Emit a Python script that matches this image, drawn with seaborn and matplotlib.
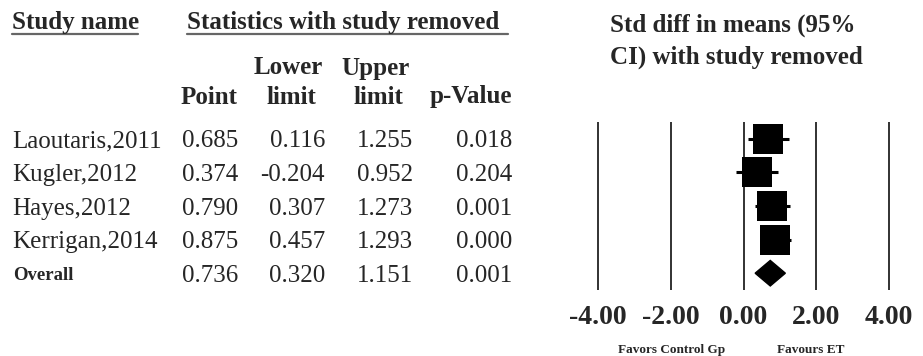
import numpy as np
import pandas as pd
import seaborn as sns
import matplotlib.pyplot as plt
from matplotlib.lines import Line2D
from matplotlib.patches import Polygon
from matplotlib.transforms import blended_transform_factory

studies = ['Laoutaris,2011', 'Kugler,2012', 'Hayes,2012', 'Kerrigan,2014']
point = [0.685, 0.374, 0.790, 0.875]
lower = [0.116, -0.204, 0.307, 0.457]
upper = [1.255, 0.952, 1.273, 1.293]
pvalue = [0.018, 0.204, 0.001, 0.000]

overall_point = 0.736
overall_lower = 0.320
overall_upper = 1.151
overall_p = 0.001

xticks = [-4, -2, 0, 2, 4]

sns.set_theme(style='white')
plt.rcParams['font.family'] = ['Liberation Serif', 'DejaVu Serif']

W, H = 923, 356
fig = plt.figure(figsize=(W / 100, H / 100), dpi=100)

# forest axes placed in pixel terms
x0, x1 = 579.8, 907.2
y_top, y_bot = 122, 290
ax = fig.add_axes([x0 / W, (H - y_bot) / H, (x1 - x0) / W, (y_bot - y_top) / H])

df = pd.DataFrame({'study': studies, 'point': point, 'lower': lower,
                   'upper': upper, 'p': pvalue})
df['row'] = np.arange(len(df))

for v in xticks:
    ax.axvline(v, color='#222222', lw=1.3, zorder=1)

ax.hlines(df['row'], df['lower'], df['upper'], color='black', lw=2.2, zorder=2)
sns.scatterplot(data=df, x='point', y='row', marker='s', s=480,
                color='black', edgecolor='black', linewidth=0, ax=ax, zorder=3)

r = len(df)
dh = 0.38
diamond = Polygon([[overall_lower, r], [overall_point, r - dh],
                   [overall_upper, r], [overall_point, r + dh]],
                  closed=True, color='black', zorder=3)
ax.add_patch(diamond)

ax.set_xlim(-4.5, 4.5)
ax.set_ylim(r + 0.5, -0.5)
ax.set_xticks(xticks)
ax.set_xticklabels(['%.2f' % v for v in xticks], fontsize=20, fontweight='bold')
ax.tick_params(axis='x', length=0, pad=11)
ax.set_yticks([])
ax.set_xlabel('')
ax.set_ylabel('')
for s in ax.spines.values():
    s.set_visible(False)

# table text, rows share the forest y scale
tr = blended_transform_factory(fig.transFigure, ax.transData)
col_right = [238, 325, 413, 512]
for i, row in df.iterrows():
    yy = row['row'] + 0.08
    fig.text(12 / W, yy, row['study'], transform=tr, fontsize=18, va='center', ha='left')
    vals = [row['point'], row['lower'], row['upper'], row['p']]
    for xr, v in zip(col_right, vals):
        fig.text(xr / W, yy, '%.3f' % v, transform=tr, fontsize=18, va='center', ha='right')

yy = r + 0.08
fig.text(13 / W, yy, 'Overall', transform=tr, fontsize=13.5, fontweight='bold',
         va='center', ha='left')
for xr, v in zip(col_right, [overall_point, overall_lower, overall_upper, overall_p]):
    fig.text(xr / W, yy, '%.3f' % v, transform=tr, fontsize=18, va='center', ha='right')

def px(x, y):
    return x / W, 1 - y / H

# headers
fig.text(*px(12, 23), 'Study name', fontsize=18, fontweight='bold', va='center', ha='left')
fig.text(*px(187, 23), 'Statistics with study removed', fontsize=18, fontweight='bold',
         va='center', ha='left')
for xa, xb in [(12, 138), (187, 508)]:
    fig.add_artist(Line2D([xa / W, xb / W], [1 - 34 / H, 1 - 34 / H],
                          color='#666666', lw=1.6, transform=fig.transFigure))

fig.text(*px(288, 68), 'Lower', fontsize=18, fontweight='bold', va='center', ha='center')
fig.text(*px(376, 68), 'Upper', fontsize=18, fontweight='bold', va='center', ha='center')
fig.text(*px(238, 97), 'Point', fontsize=18, fontweight='bold', va='center', ha='right')
fig.text(*px(291, 97), 'limit', fontsize=18, fontweight='bold', va='center', ha='center')
fig.text(*px(378, 97), 'limit', fontsize=18, fontweight='bold', va='center', ha='center')
fig.text(*px(512, 97), 'p-Value', fontsize=18, fontweight='bold', va='center', ha='right')

fig.text(*px(610, 25), 'Std diff in means (95%', fontsize=18, fontweight='bold',
         va='center', ha='left')
fig.text(*px(610, 57), 'CI) with study removed', fontsize=18, fontweight='bold',
         va='center', ha='left')

fig.text(*px(672, 350), 'Favors Control Gp', fontsize=9.5, fontweight='bold',
         va='center', ha='center')
fig.text(*px(811, 350), 'Favours ET', fontsize=9.5, fontweight='bold',
         va='center', ha='center')

fig.savefig('out.png', dpi=100, facecolor='white')
